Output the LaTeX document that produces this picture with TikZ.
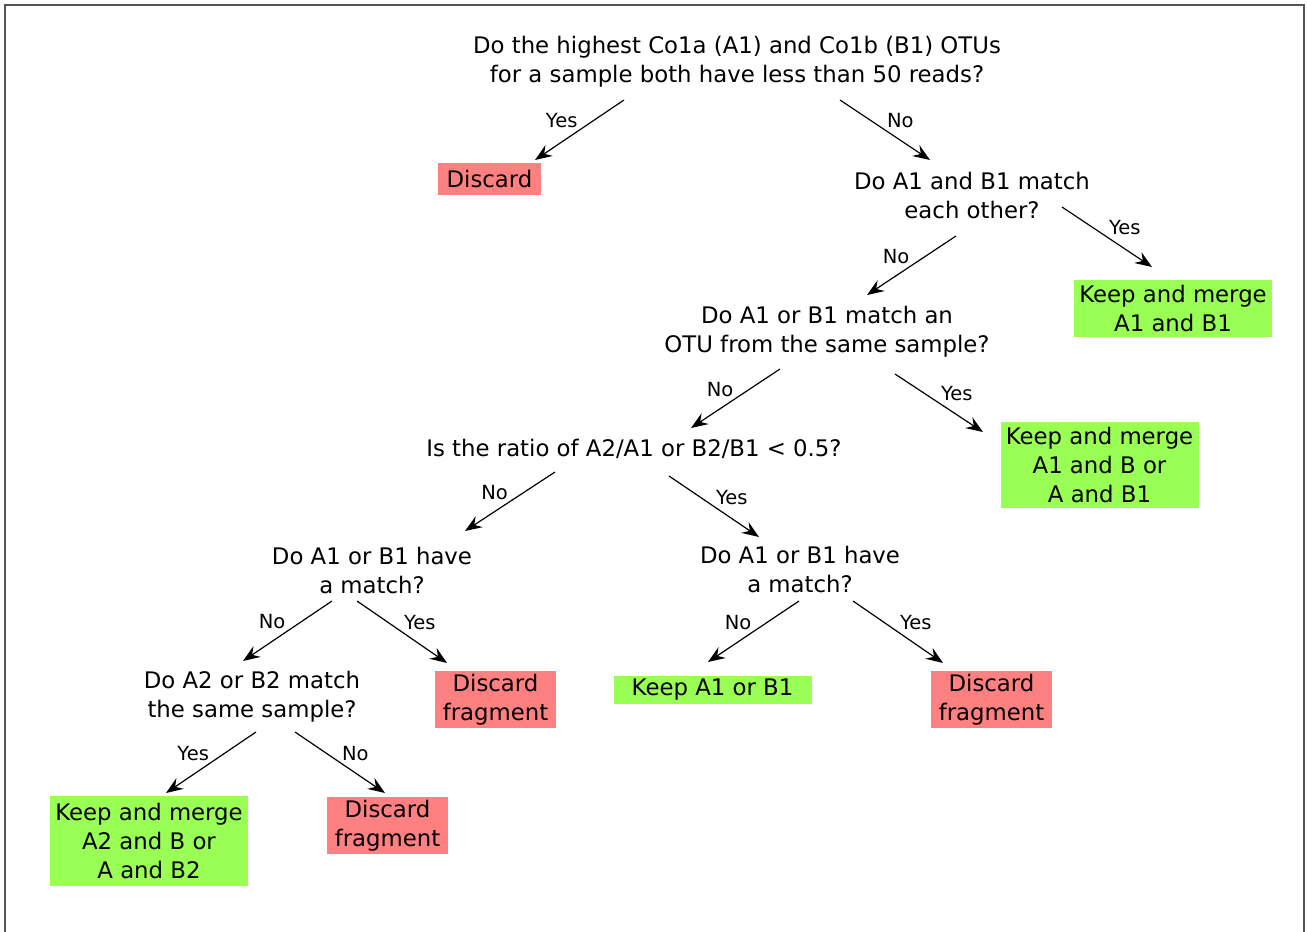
\documentclass[tikz,border=0pt]{standalone}
\usepackage{fontspec}
\setmainfont{DejaVu Sans}
\usepackage{xcolor}
\usetikzlibrary{arrows.meta,positioning,calc}
\definecolor{keepgreen}{HTML}{99FF55}
\definecolor{dropred}{HTML}{FF8080}
\definecolor{framegray}{HTML}{555555}

\begin{document}
\begin{tikzpicture}[x=1pt,y=-1pt,
    question/.style={align=center, inner sep=0pt, font=\fontsize{22.8}{29}\selectfont},
    keepbox/.style={question, fill=keepgreen, minimum width=198pt},
    dropbox/.style={question, fill=dropred},
    arr/.style={-{Stealth[length=17pt,width=13pt,inset=6pt]}, line width=1.2pt},
    lbl/.style={font=\fontsize{19.5}{21}\selectfont, inner sep=1.5pt}]
    \useasboundingbox (0,0) rectangle (1307,932);
    \draw[framegray, line width=1.5pt] (5,940) -- (5,5) -- (1304,5) -- (1304,940);

    %Nodes
    \node (root)     [question] at (737,62)   {Do the highest Co1a (A1) and Co1b (B1) OTUs\\for a sample both have less than 50 reads?};
    \node (discard)  [dropbox, minimum width=103pt, minimum height=32pt] at (489.5,179) {Discard};
    \node (match)    [question] at (972,195)  {Do A1 and B1 match\\each other?};
    \node (merge_ab) [keepbox, minimum height=57pt] at (1173,308.5) {Keep and merge\\A1 and B1};
    \node (sample)   [question] at (827,332)  {Do A1 or B1 match an\\OTU from the same sample?};
    \node (merge_s)  [keepbox, minimum height=86pt] at (1099.5,465) {Keep and merge\\A1 and B or\\A and B1};
    \node (ratio)    [question] at (634,449)  {Is the ratio of A2/A1 or B2/B1 < 0.5?};
    \node (have_no)  [question] at (372,570)  {Do A1 or B1 have\\a match?};
    \node (have_yes) [question] at (800,569)  {Do A1 or B1 have\\a match?};
    \node (same)     [question] at (252,697)  {Do A2 or B2 match\\the same sample?};
    \node (frag_a)   [dropbox, minimum width=121pt, minimum height=57pt] at (495.5,699.5) {Discard\\fragment};
    \node (keep_one) [keepbox, minimum height=28pt] at (712.5,690) {Keep A1 or B1};
    \node (frag_b)   [dropbox, minimum width=121pt, minimum height=57pt] at (991.5,699.5) {Discard\\fragment};
    \node (merge_2)  [keepbox, minimum height=90pt] at (149,841) {Keep and merge\\A2 and B or\\A and B2};
    \node (frag_c)   [dropbox, minimum width=121pt, minimum height=57pt] at (387.5,825.5) {Discard\\fragment};

    %Lines
    \draw[arr] ([shift={(-113,38)}]root.center)    -- node[lbl, above left]  {Yes} ([shift={(45.5,-19)}]discard.center);
    \draw[arr] ([shift={(103,38)}]root.center)     -- node[lbl, above right] {No}  ([shift={(-42,-35)}]match.center);
    \draw[arr] ([shift={(90,12)}]match.center)     -- node[lbl, above right] {Yes} ([shift={(-21,-41.5)}]merge_ab.center);
    \draw[arr] ([shift={(-16,41)}]match.center)    -- node[lbl, above left]  {No}  ([shift={(40,-37)}]sample.center);
    \draw[arr] ([shift={(-47,37)}]sample.center)   -- node[lbl, above left]  {No}  ([shift={(57,-21)}]ratio.center);
    \draw[arr] ([shift={(68,42)}]sample.center)    -- node[lbl, above right] {Yes} ([shift={(-116.5,-33)}]merge_s.center);
    \draw[arr] ([shift={(-79,23)}]ratio.center)    -- node[lbl, above left]  {No}  ([shift={(93,-39)}]have_no.center);
    \draw[arr] ([shift={(35,27)}]ratio.center)     -- node[lbl, above right] {Yes} ([shift={(-41,-32)}]have_yes.center);
    \draw[arr] ([shift={(-40,31)}]have_no.center)  -- node[lbl, above left]  {No}  ([shift={(-9,-36)}]same.center);
    \draw[arr] ([shift={(-15,31)}]have_no.center)  -- node[lbl, above right] {Yes} ([shift={(-48.5,-36.5)}]frag_a.center);
    \draw[arr] ([shift={(-1,32)}]have_yes.center)  -- node[lbl, above left]  {No}  ([shift={(-4.5,-28)}]keep_one.center);
    \draw[arr] ([shift={(53,32)}]have_yes.center)  -- node[lbl, above right] {Yes} ([shift={(-48.5,-36.5)}]frag_b.center);
    \draw[arr] ([shift={(4,35)}]same.center)       -- node[lbl, above left]  {Yes} ([shift={(17,-48)}]merge_2.center);
    \draw[arr] ([shift={(43,35)}]same.center)      -- node[lbl, above right] {No}  ([shift={(-2.5,-32.5)}]frag_c.center);
\end{tikzpicture}
\end{document}
